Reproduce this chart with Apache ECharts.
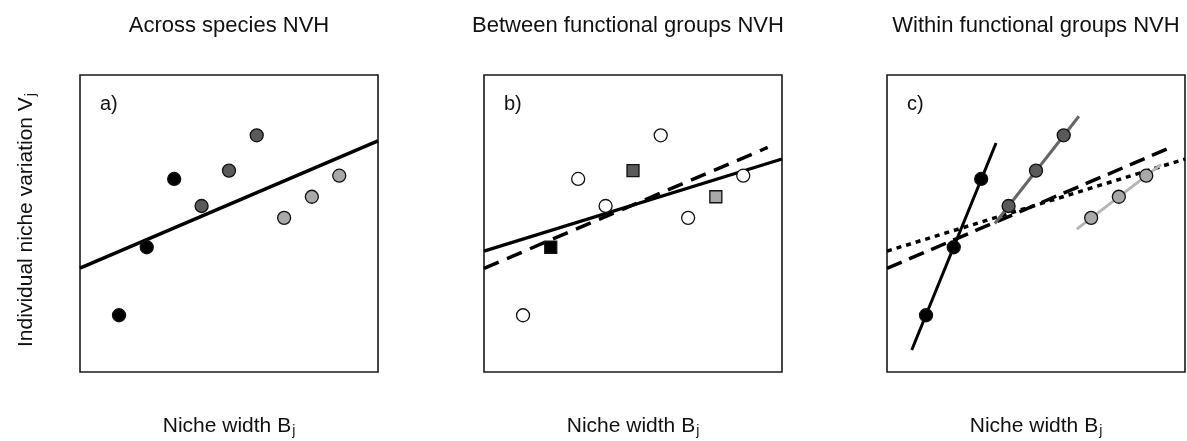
<!DOCTYPE html>
<html><head><meta charset="utf-8">
<script src="https://cdn.jsdelivr.net/npm/echarts@6/dist/echarts.min.js"></script>
<style>html,body{margin:0;padding:0;background:#fff}#c{width:1187px;height:441px}</style>
</head><body><div id="c"></div>
<script>
// ---- data (axis units 0..100 within each panel) ----
const panelTitles = ['Across species NVH', 'Between functional groups NVH', 'Within functional groups NVH'];
const panelTags = ['a)', 'b)', 'c)'];
const xLabel = 'Niche width B';
const xLabelSub = 'j';
const yLabel = 'Individual niche variation V';
const yLabelSub = 'j';

const blackX = [13.1, 22.4, 31.6];
const blackY = [19.1, 42.0, 65.0];
const darkX  = [40.8, 50.0, 59.3];
const darkY  = [55.9, 67.8, 79.7];
const lightX = [68.5, 77.8, 87.0];
const lightY = [51.9, 59.0, 66.1];

// panel b: species shown as open circles (non-mean positions) and group means as squares
const openX = [13.1, 31.6, 40.8, 59.3, 68.5, 87.0];
const openY = [19.1, 65.0, 55.9, 79.7, 51.9, 66.1];
const meanX = [22.4, 50.0, 77.8];
const meanY = [42.0, 67.8, 59.0];

// regression lines
const acrossX = [0, 100];
const acrossY = [35.0, 77.8];
const acrossDashX = [0, 95.2];
const acrossDashY = [34.9, 75.6];
const betweenX = [0, 100];
const betweenY = [40.7, 71.7];
const withinBlackX = [8.3, 36.6];
const withinBlackY = [7.4, 77.1];
const withinDarkX = [36.2, 64.4];
const withinDarkY = [50.0, 86.1];
const withinLightX = [63.7, 92.0];
const withinLightY = [48.1, 69.9];

const colBlack = '#000000', colDark = '#5a5a5a', colLight = '#a9a9a9';
const colDarkLine = '#666666', colLightLine = '#b5b5b5';

// ---- build ----
const zip = (xs, ys) => xs.map((x, i) => [x, ys[i]]);
const boxLefts = [80, 484, 887];
const boxTop = 75, boxW = 298, boxH = 297;
const FONT = 'Liberation Sans, Arial, sans-serif';

const grids = boxLefts.map(l => ({left: l, top: boxTop, width: boxW, height: boxH, show: true,
  borderColor: '#1a1a1a', borderWidth: 1.6, backgroundColor: 'transparent', containLabel: false}));
const ax = i => ({type: 'value', gridIndex: i, min: 0, max: 100, axisLine: {show: false},
  axisTick: {show: false}, axisLabel: {show: false}, splitLine: {show: false}});

function pts(g, xs, ys, fill, sym, size) {
  return {type: 'scatter', xAxisIndex: g, yAxisIndex: g, data: zip(xs, ys), symbol: sym || 'circle',
    symbolSize: size || 13, z: 5, silent: true,
    itemStyle: {color: fill, opacity: 1, borderColor: '#111', borderWidth: 1.3}};
}
function line(g, xs, ys, color, width, type) {
  return {type: 'line', xAxisIndex: g, yAxisIndex: g, data: zip(xs, ys), symbol: 'none', z: 3,
    silent: true, animation: false,
    lineStyle: {color: color, width: width, type: type || 'solid', cap: 'butt', opacity: 1}};
}

const series = [
  // a
  line(0, acrossX, acrossY, '#000', 3.5),
  pts(0, blackX, blackY, colBlack),
  pts(0, darkX, darkY, colDark),
  pts(0, lightX, lightY, colLight),
  // b
  line(1, betweenX, betweenY, '#000', 3.2),
  line(1, acrossDashX, acrossDashY, '#000', 3.5, [16, 9]),
  pts(1, openX, openY, '#ffffff'),
  pts(1, [meanX[0]], [meanY[0]], colBlack, 'rect', 12),
  pts(1, [meanX[1]], [meanY[1]], colDark, 'rect', 12),
  pts(1, [meanX[2]], [meanY[2]], colLight, 'rect', 12),
  // c
  line(2, acrossDashX, acrossDashY, '#000', 3.5, [16, 8]),
  line(2, betweenX, betweenY, '#000', 3.5, [5, 5]),
  line(2, withinBlackX, withinBlackY, colBlack, 3),
  line(2, withinDarkX, withinDarkY, colDarkLine, 3),
  line(2, withinLightX, withinLightY, colLightLine, 3),
  pts(2, blackX, blackY, colBlack),
  pts(2, darkX, darkY, colDark),
  pts(2, lightX, lightY, colLight)
];

const rich = {m: {fontSize: 21, fontFamily: FONT, fill: '#111', color: '#111'},
  s: {fontSize: 14, fontFamily: FONT, fill: '#111', color: '#111', padding: [10, 0, 0, 1]}};
const titleCenters = [229, 628, 1036];
const graphic = [];
panelTitles.forEach((t, i) => graphic.push({type: 'text', x: titleCenters[i], y: 26,
  style: {text: t, font: '22px ' + FONT, fill: '#111', textAlign: 'center', textVerticalAlign: 'middle'}}));
panelTags.forEach((t, i) => graphic.push({type: 'text', x: boxLefts[i] + 20, y: 104,
  style: {text: t, font: '20px ' + FONT, fill: '#111', textAlign: 'left', textVerticalAlign: 'middle'}}));
boxLefts.forEach(l => graphic.push({type: 'text', x: l + boxW / 2, y: 426,
  style: {text: '{m|' + xLabel + '}{s|' + xLabelSub + '}', rich: rich, textAlign: 'center', textVerticalAlign: 'middle'}}));
graphic.push({type: 'text', x: 26, y: 220, rotation: Math.PI / 2,
  style: {text: '{m|' + yLabel + '}{s|' + yLabelSub + '}', rich: rich, textAlign: 'center', textVerticalAlign: 'middle'}});

const chart = echarts.init(document.getElementById('c'), null, {renderer: 'canvas'});
chart.setOption({
  animation: false,
  backgroundColor: '#ffffff',
  grid: grids,
  xAxis: [ax(0), ax(1), ax(2)],
  yAxis: [ax(0), ax(1), ax(2)],
  series: series,
  graphic: graphic
});
</script></body></html>
